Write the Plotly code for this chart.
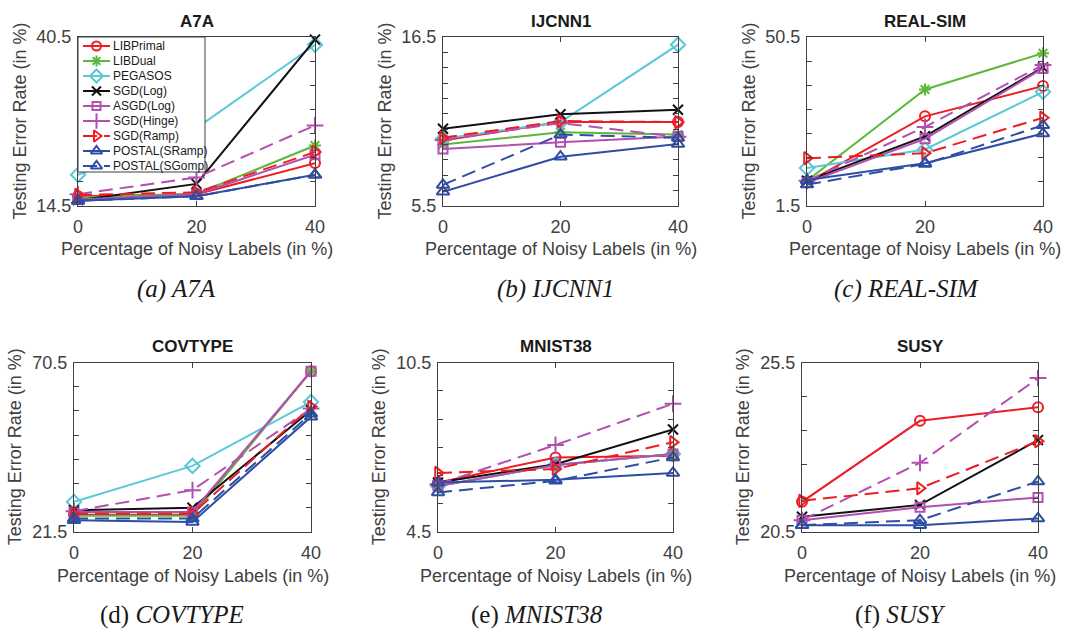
import numpy as np
import plotly.graph_objects as go

W, H = 1082, 638

# ---------------- data ----------------
methods = ["LIBPrimal", "LIBDual", "PEGASOS", "SGD(Log)", "ASGD(Log)",
           "SGD(Hinge)", "SGD(Ramp)", "POSTAL(SRamp)", "POSTAL(SGomp)"]
noise = [0, 20, 40]
datasets = ["A7A", "IJCNN1", "REAL-SIM", "COVTYPE", "MNIST38", "SUSY"]

a7a = [[16.0, 16.3, 21.1], [15.8, 16.4, 23.8], [19.3, 26.5, 39.3],
       [15.4, 17.9, 40.1], [15.5, 16.3, 22.4], [16.3, 18.9, 26.9],
       [16.2, 16.6, 22.8], [15.3, 16.0, 19.3], [15.3, 16.0, 19.3]]
ijcnn1 = [[9.76, 10.96, 10.96], [9.5, 10.3, 10.15], [9.87, 10.96, 16.0],
          [10.53, 11.47, 11.77], [9.21, 9.65, 10.02], [9.8, 10.9, 10.0],
          [9.94, 11.03, 10.96], [6.43, 8.71, 9.54], [6.87, 10.15, 9.94]]
realsim = [[8.3, 27.5, 36.3], [8.8, 35.3, 45.8], [12.5, 17.9, 34.6],
           [8.8, 21.7, 41.7], [8.3, 21.0, 41.4], [8.8, 24.4, 42.4],
           [15.35, 16.8, 27.1], [9.0, 13.9, 22.5], [7.7, 13.7, 24.9]]
covtype = [[26.5, 26.5, 68.0], [26.2, 26.2, 68.0], [30.2, 40.6, 59.1],
           [27.8, 28.5, 56.7], [27.3, 27.3, 68.0], [27.5, 33.6, 57.2],
           [26.8, 26.8, 57.7], [24.9, 24.4, 54.8], [25.4, 25.4, 55.7]]
mnist38 = [[6.25, 7.14, 7.2], [6.13, 6.87, 7.26], [6.13, 6.87, 7.26],
           [6.25, 6.9, 8.13], [6.13, 6.87, 7.26], [6.19, 7.58, 9.04],
           [6.59, 6.73, 7.68], [6.25, 6.35, 6.59], [5.9, 6.31, 7.14]]
susy = [[21.39, 23.78, 24.18], [None, None, None], [None, None, None],
        [20.95, 21.3, 23.21], [20.85, 21.23, 21.52], [20.85, 22.54, 25.04],
        [21.42, 21.79, 23.18], [20.7, 20.7, 20.9], [20.7, 20.85, 21.99]]
all_data = [a7a, ijcnn1, realsim, covtype, mnist38, susy]

y_ranges = [(14.5, 40.5), (5.5, 16.5), (1.5, 50.5), (21.5, 70.5), (4.5, 10.5), (20.5, 25.5)]
y_intervals = [7, 11, 7, 7, 6, 5]
captions = ["<i>(a) A7A</i>", "<i>(b) IJCNN1</i>", "<i>(c) REAL-SIM</i>",
            "(d) <i>COVTYPE</i>", "(e) <i>MNIST38</i>", "(f) <i>SUSY</i>"]

# ---------------- styles ----------------
RED, GREEN, CYAN, BLACK, MAG, BLUE = "#ee1d23", "#5cb83a", "#5ac8d8", "#111111", "#b24fb0", "#2e4ea6"
colors = [RED, GREEN, CYAN, BLACK, MAG, MAG, RED, BLUE, BLUE]
symbols = ["circle-open", "asterisk-open", "diamond-open", "x-thin-open", "square-open",
           "cross-thin-open", "triangle-right-open", "triangle-up-open", "triangle-up-open"]
msizes = [10, 10, 11, 10, 9, 12, 11, 11, 11]
DASH = "14px,7px"
dashes = ["solid", "solid", "solid", "solid", "solid", DASH, DASH, "solid", DASH]

AX = "#404040"
# axes boxes in pixels: (left, right, top, bottom)
boxes = [(78, 315, 37, 206), (443, 678, 37, 206), (807, 1043, 37, 206),
         (74, 311, 362.5, 532), (438, 673, 362.5, 532), (802, 1038, 362.5, 532)]
cap_x = [176, 555, 906, 172, 537, 900]

fig = go.Figure()
annotations = []
shapes = []

for k, (name, data) in enumerate(zip(datasets, all_data)):
    xa = "x" if k == 0 else f"x{k+1}"
    ya = "y" if k == 0 else f"y{k+1}"
    for i, m in enumerate(methods):
        fig.add_trace(go.Scatter(
            x=noise, y=data[i], xaxis=xa, yaxis=ya, mode="lines+markers",
            name=m, showlegend=False, cliponaxis=False,
            line=dict(color=colors[i], width=2, dash=dashes[i]),
            marker=dict(symbol=symbols[i], size=msizes[i], color=colors[i],
                        line=dict(color=colors[i], width=2))))
    l, r, t, b = boxes[k]
    lo, hi = y_ranges[k]
    n = y_intervals[k]
    tv = list(np.linspace(lo, hi, n + 1))
    tt = [f"{lo:.1f}"] + [""] * (n - 1) + [f"{hi:.1f}"]
    axcommon = dict(showline=True, mirror="ticks", linecolor=AX, linewidth=1,
                    ticks="inside", ticklen=5, tickcolor=AX, tickwidth=1,
                    showgrid=False, zeroline=False, fixedrange=True, automargin=False,
                    tickfont=dict(family="Liberation Sans, Arial", size=18, color=AX))
    xkey = "xaxis" if k == 0 else f"xaxis{k+1}"
    ykey = "yaxis" if k == 0 else f"yaxis{k+1}"
    fig.update_layout({
        xkey: dict(domain=[l / W, r / W], range=[0, 40], tickvals=noise,
                   anchor=ya, ticklabelstandoff=4, **axcommon),
        ykey: dict(domain=[1 - b / H, 1 - t / H], range=[lo, hi], tickvals=tv,
                   ticktext=tt, anchor=xa, ticklabelstandoff=2, **axcommon),
    })
    cx = (l + r) / 2
    cy = (t + b) / 2
    annotations.append(dict(text=f"<b>{name}</b>", x=cx / W, y=1 - (t - 16) / H,
                            xref="paper", yref="paper", showarrow=False,
                            font=dict(family="Liberation Sans, Arial", size=17, color="#1a1a1a"),
                            xanchor="center", yanchor="middle"))
    annotations.append(dict(text="Percentage of Noisy Labels (in %)", x=cx / W,
                            y=1 - (b + 43.5) / H, xref="paper", yref="paper", showarrow=False,
                            font=dict(family="Liberation Sans, Arial", size=18, color=AX),
                            xanchor="center", yanchor="middle"))
    annotations.append(dict(text="Testing Error Rate (in %)", x=(l - 59) / W,
                            y=1 - cy / H, xref="paper", yref="paper", showarrow=False,
                            textangle=-90,
                            font=dict(family="Liberation Sans, Arial", size=18, color=AX),
                            xanchor="center", yanchor="middle"))
    annotations.append(dict(text=captions[k], x=cap_x[k] / W,
                            y=1 - (b + 83) / H, xref="paper", yref="paper", showarrow=False,
                            font=dict(family="Liberation Serif, Times New Roman", size=25, color="#1a1a1a"),
                            xanchor="center", yanchor="middle"))

# ---------------- legend inset (in A7A panel) ----------------
LL, LR, LT, LB = 78, 205, 37, 172
lw, lh = LR - LL, LB - LT
fig.add_trace(go.Scatter(x=[0, lw, lw, 0, 0], y=[0, 0, lh, lh, 0], xaxis="x7", yaxis="y7",
                         mode="lines", fill="toself", fillcolor="white",
                         line=dict(width=0, color="white"), showlegend=False, hoverinfo="skip"))
for i, m in enumerate(methods):
    yy = 9 + 15 * i
    fig.add_trace(go.Scatter(x=[5, 32], y=[yy, yy], xaxis="x7", yaxis="y7", mode="lines",
                             line=dict(color=colors[i], width=2, dash=dashes[i]),
                             showlegend=False, hoverinfo="skip"))
    fig.add_trace(go.Scatter(x=[18.5], y=[yy], xaxis="x7", yaxis="y7", mode="markers",
                             marker=dict(symbol=symbols[i], size=msizes[i] - 1, color=colors[i],
                                         line=dict(color=colors[i], width=2)),
                             showlegend=False, hoverinfo="skip", cliponaxis=False))
    annotations.append(dict(text=m, x=33, y=yy, xref="x7", yref="y7", showarrow=False,
                            xanchor="left", yanchor="middle",
                            font=dict(family="Liberation Sans, Arial", size=12, color="#1a1a1a")))
fig.update_layout(
    xaxis7=dict(domain=[LL / W, LR / W], range=[0, lw], visible=False, fixedrange=True,
                anchor="y7", automargin=False),
    yaxis7=dict(domain=[1 - LB / H, 1 - LT / H], range=[lh, 0], visible=False, fixedrange=True,
                anchor="x7", automargin=False),
)
shapes.append(dict(type="rect", xref="paper", yref="paper", x0=LL / W, x1=LR / W,
                   y0=1 - LB / H, y1=1 - LT / H, line=dict(color=AX, width=1),
                   fillcolor="rgba(0,0,0,0)", layer="above"))

fig.update_layout(width=W, height=H, margin=dict(l=0, r=0, t=0, b=0, pad=0, autoexpand=False),
                  paper_bgcolor="white", plot_bgcolor="white",
                  annotations=annotations, shapes=shapes, showlegend=False)
fig.write_html("out.html")
